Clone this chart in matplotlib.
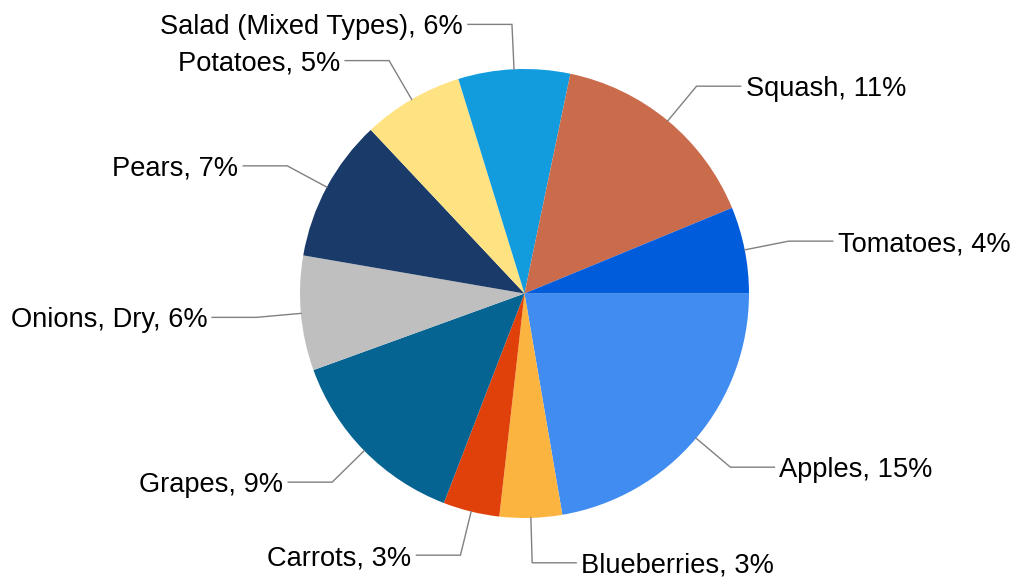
import numpy as np
import matplotlib
matplotlib.use("Agg")
import matplotlib.pyplot as plt

# share of total (percent), drawn clockwise from 3 o'clock
categories = [
    "Apples", "Blueberries", "Carrots", "Grapes", "Onions, Dry",
    "Pears", "Potatoes", "Salad (Mixed Types)", "Squash", "Tomatoes",
]
values = [15.4, 3.1, 2.8, 9.4, 5.7, 7.1, 5.0, 5.55, 10.7, 4.3]
colors = [
    "#418CF0", "#FCB441", "#E0400A", "#056492", "#BFBFBF",
    "#1A3B69", "#FFE382", "#129CDD", "#CA6B4B", "#005CDB",
]

W, H = 1015, 577
cx, cy, R = 524.5, H - 293.5, 224.5

fig = plt.figure(figsize=(W / 100, H / 100), dpi=100)
ax = fig.add_axes([0, 0, 1, 1])

wedges, _ = ax.pie(
    values, colors=colors, startangle=0, counterclock=False,
    center=(cx, cy), radius=R, normalize=True,
    wedgeprops=dict(linewidth=0),
)
ax.set_aspect("auto")
ax.set_xlim(0, W)
ax.set_ylim(0, H)
ax.axis("off")

for w, name, v in zip(wedges, categories, values):
    mid = np.deg2rad((w.theta1 + w.theta2) / 2)
    c, s = np.cos(mid), np.sin(mid)
    x0, y0 = cx + R * c, cy + R * s
    x1, y1 = cx + 1.2 * R * c, cy + 1.2 * R * s
    side = 1 if c >= 0 else -1
    x2 = x1 + side * 44
    ax.plot([x0, x1, x2], [y0, y1, y1], color="#808080", lw=1.0,
            solid_joinstyle="miter")
    ax.text(x2 + side * 5, y1, f"{name}, {v:.0f}%",
            ha="left" if side > 0 else "right", va="center_baseline",
            fontsize=19.6, family="Liberation Sans", color="#000000")

fig.savefig("out.png", dpi=100)
